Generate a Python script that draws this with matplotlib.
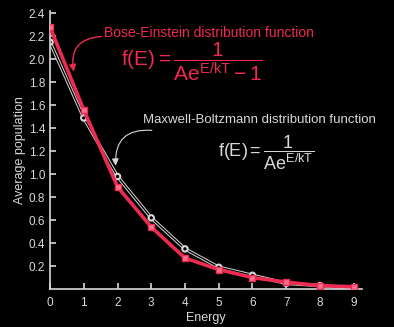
import numpy as np
import matplotlib.pyplot as plt
import matplotlib.patheffects as pe

plt.rcParams['font.family'] = ['Liberation Sans', 'DejaVu Sans']
plt.rcParams['mathtext.fontset'] = 'custom'
plt.rcParams['mathtext.rm'] = 'Liberation Sans'
plt.rcParams['mathtext.it'] = 'Liberation Sans'

energy = [0, 1, 2, 3, 4, 5, 6, 7, 8, 9]
bose_einstein = [2.28, 1.56, 0.89, 0.54, 0.27, 0.17, 0.10, 0.06, 0.03, 0.02]
maxwell_boltzmann = [2.15, 1.49, 0.98, 0.62, 0.35, 0.19, 0.12, 0.05, 0.03, 0.01]
yticks = [0.2, 0.4, 0.6, 0.8, 1.0, 1.2, 1.4, 1.6, 1.8, 2.0, 2.2, 2.4]

red = '#ee2a50'
grey = '#d8d8d8'

fig = plt.figure(figsize=(3.94, 3.27), dpi=100, facecolor='black')
ax = fig.add_axes([0.127, 0.116, 0.792, 0.85], facecolor='black')

# MB curve: black line with light outline
ax.plot(energy, maxwell_boltzmann, color='black', lw=1.0,
        path_effects=[pe.Stroke(linewidth=2.4, foreground=grey), pe.Normal()],
        marker='o', ms=3, mfc='black', mec=grey, mew=0.6, zorder=2)
ax.plot(energy, bose_einstein, color=red, lw=2.6, marker='s', ms=4.5,
        mfc='#ff7090', mec=red, mew=1, zorder=3)

ax.set_xlim(0, 9.25)
ax.set_ylim(0, 2.42)
ax.set_xticks(energy)
ax.set_yticks(yticks)
ax.set_yticklabels([f'{v:.1f}' for v in yticks])
for s in ['top', 'right']:
    ax.spines[s].set_visible(False)
for s in ['left', 'bottom']:
    ax.spines[s].set_color(grey)
    ax.spines[s].set_linewidth(1.2)
ax.tick_params(direction='in', colors=grey, labelsize=8.5, length=4, width=1.2)
ax.tick_params(axis='x', pad=6)
ax.set_xlabel('Energy', color=grey, fontsize=9, labelpad=2)
ax.set_ylabel('Average population', color=grey, fontsize=9, labelpad=2)

# Bose-Einstein annotation
ax.text(1.6, 2.23, 'Bose-Einstein distribution function', color=red, fontsize=10,
        va='center')
ax.text(2.1, 1.98, r'$\mathrm{f(E)} = \dfrac{1}{\mathrm{Ae}^{E/kT} - 1}$',
        color=red, fontsize=15, va='center')
ax.annotate('', xy=(0.72, 1.87), xytext=(1.6, 2.2),
            arrowprops=dict(arrowstyle='-|>', color=red, lw=1,
                            connectionstyle='arc3,rad=0.6'))

# Maxwell-Boltzmann annotation
ax.text(2.75, 1.47, 'Maxwell-Boltzmann distribution function', color=grey,
        fontsize=9.5, va='center')
ax.text(4.97, 1.19, r'$\mathrm{f(E)} = \dfrac{1}{\mathrm{Ae}^{E/kT}}$',
        color=grey, fontsize=13, va='center')
ax.annotate('', xy=(1.95, 1.05), xytext=(3.1, 1.38),
            arrowprops=dict(arrowstyle='-|>', color=grey, lw=0.8,
                            connectionstyle='arc3,rad=0.6'))

fig.savefig('out.png', facecolor='black')
